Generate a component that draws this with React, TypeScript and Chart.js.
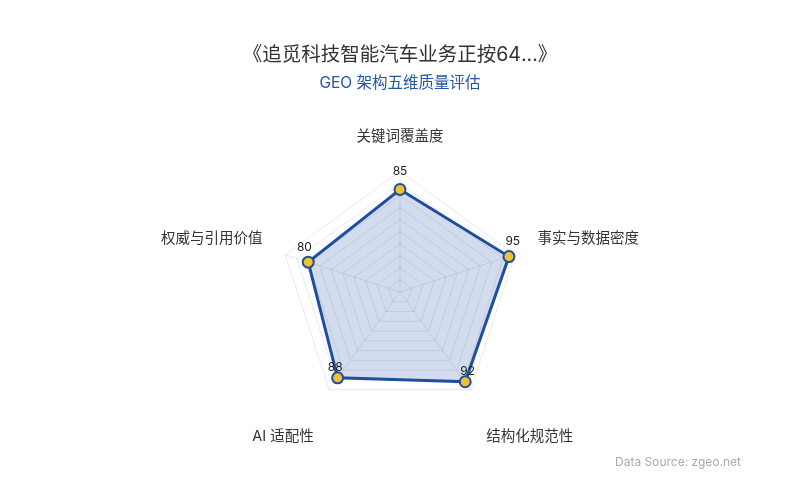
import { Chart, registerables } from "chart.js";
import { useEffect, useRef } from "react";
Chart.register(...registerables);

const titleText = "《追觅科技智能汽车业务正按64...》";
const subtitleText = "GEO 架构五维质量评估";
const sourceText = "Data Source: zgeo.net";
const dimensions = ["关键词覆盖度", "事实与数据密度", "结构化规范性", "AI 适配性", "权威与引用价值"];
const scores = [85, 95, 92, 88, 80];
const scaleMax = 100;
const scaleStep = 10;
const labelGaps = [26, 24, 26, 26, 24];
// bottom labels sit one line lower, like the original layout
const dropLabel = [false, false, true, true, false];

const FONT = "Inter, 'Noto Sans CJK SC', 'Noto Sans', sans-serif";

const valueLabels = {
  id: "valueLabels",
  afterDatasetsDraw(chart: Chart) {
    const ctx = chart.ctx;
    const scale: any = chart.scales.r;
    const meta = chart.getDatasetMeta(0);
    ctx.save();
    ctx.font = "12px " + FONT;
    ctx.fillStyle = "#222";
    ctx.textAlign = "center";
    ctx.textBaseline = "middle";
    meta.data.forEach((pt: any, i: number) => {
      const dx0 = pt.x - scale.xCenter;
      const dy0 = pt.y - scale.yCenter;
      const d = Math.sqrt(dx0 * dx0 + dy0 * dy0) || 1;
      const dx = dx0 / d;
      const dy = dy0 / d;
      ctx.fillText(String(scores[i]), pt.x + 4 * dx, pt.y - (14 - 4 * dy));
    });
    ctx.restore();
  },
};

const sourceNote = {
  id: "sourceNote",
  afterDraw(chart: Chart) {
    const ctx = chart.ctx;
    ctx.save();
    ctx.font = "12px " + FONT;
    ctx.fillStyle = "#aaa";
    ctx.textAlign = "right";
    ctx.textBaseline = "middle";
    ctx.fillText(sourceText, 741, 462);
    ctx.restore();
  },
};

function RadarChart() {
  const chartRef = useRef<HTMLCanvasElement | null>(null);
  const chartInstance = useRef<Chart | null>(null);

  useEffect(() => {
    document.body.style.margin = "0";
    const ctx = chartRef.current?.getContext("2d");
    if (chartInstance.current) {
      chartInstance.current.destroy();
    }
    if (ctx) {
      chartInstance.current = new Chart(ctx, {
        type: "radar",
        data: {
          labels: dimensions.map((d, i) => (dropLabel[i] ? ["", d] : d)),
          datasets: [
            {
              label: subtitleText,
              data: scores,
              borderColor: "#1f4e9f",
              borderWidth: 3,
              backgroundColor: "rgba(31,78,159,0.2)",
              fill: true,
              pointBackgroundColor: "#f2c12e",
              pointBorderColor: "#1f4e9f",
              pointBorderWidth: 2,
              pointRadius: 5.5,
            },
          ],
        },
        options: {
          animation: false,
          responsive: true,
          maintainAspectRatio: false,
          layout: { padding: { top: 24, bottom: 50, left: 20, right: 20 } },
          plugins: {
            legend: { display: false },
            tooltip: { enabled: false },
            title: {
              display: true,
              text: titleText,
              color: "#333",
              font: { family: FONT, size: 19.5, weight: "normal" },
              padding: { top: 19, bottom: 8 },
            },
            subtitle: {
              display: true,
              text: subtitleText,
              color: "#2456a6",
              font: { family: FONT, size: 15.5, weight: "normal" },
              padding: { bottom: 28 },
            },
          },
          scales: {
            r: {
              min: 0,
              max: scaleMax,
              ticks: { display: false, stepSize: scaleStep },
              grid: { color: "rgba(120,140,180,0.18)", lineWidth: 1 },
              angleLines: { color: "rgba(120,140,180,0.18)", lineWidth: 1 },
              pointLabels: {
                color: "#333",
                padding: (c: any) => labelGaps[c.index],
                font: { family: FONT, size: 14.5 },
              },
            },
          },
        },
        plugins: [valueLabels, sourceNote],
      });
    }
    return () => {
      if (chartInstance.current) {
        chartInstance.current.destroy();
      }
    };
  }, []);

  return (
    <div style={{ position: "relative", width: 800, height: 500 }}>
      <canvas ref={chartRef} />
    </div>
  );
}

export default function App() {
  return <RadarChart />;
}
